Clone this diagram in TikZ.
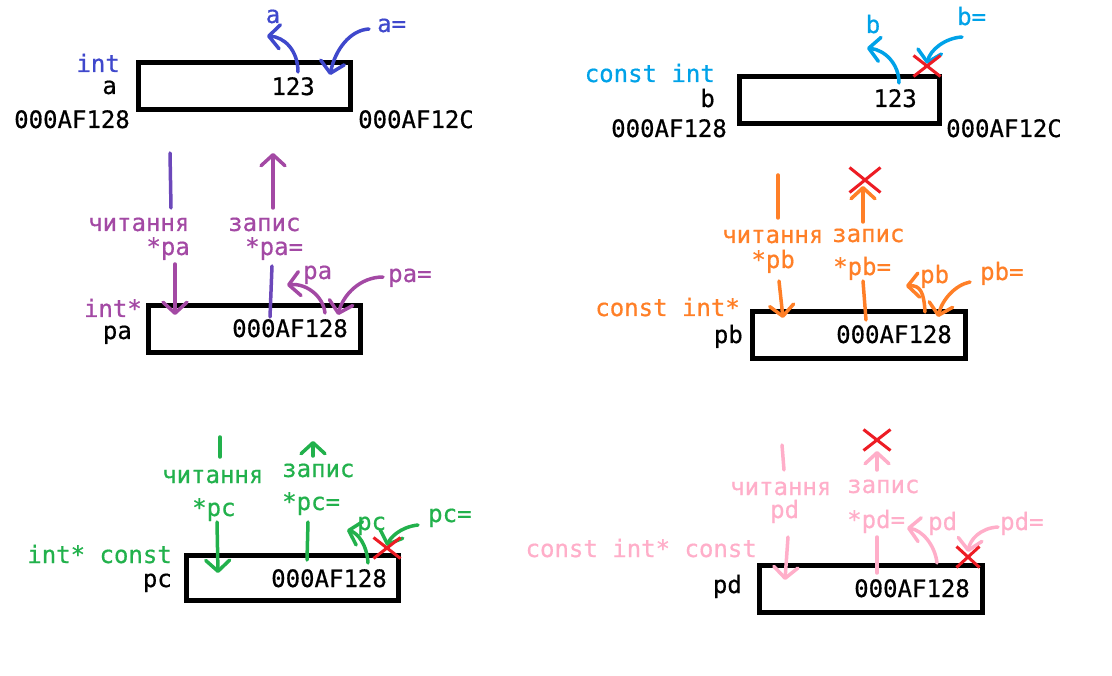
\documentclass[tikz,border=0pt]{standalone}
\usepackage{fontspec}
\newfontfamily\memfont{DejaVu Sans Mono}[FakeBold=0.6]
\usepackage{tikz}
\usetikzlibrary{arrows.meta,shapes.misc}
\definecolor{varA}{HTML}{3F48CC}
\definecolor{varB}{HTML}{00A2E8}
\definecolor{ptrA}{HTML}{A349A4}
\definecolor{ptrB}{HTML}{FF7F27}
\definecolor{ptrC}{HTML}{22B14C}
\definecolor{ptrD}{HTML}{FFAEC9}
\definecolor{deny}{HTML}{ED1C24}
\colorlet{ptrAmix}{ptrA!45!varA}
\tikzset{
  lbl/.style={inner sep=0pt,font=\memfont\fontsize{24}{28}\selectfont},
  cell/.style={draw,line width=5pt,minimum width=#1,minimum height=47pt,inner sep=0pt},
  hand/.style={line width=3.5pt,line cap=round,line join=round},
  handarrow/.style={hand,-{Straight Barb[length=11pt,width=24pt,round]}},
  nope/.style={cross out,draw=deny,line width=3pt,minimum width=24pt,minimum height=18pt,inner sep=0pt}
}
\begin{document}
\begin{tikzpicture}[x=1pt,y=-1pt]
    \useasboundingbox (0,0) rectangle (1112,676);

    % int a
    \node[cell=212] (boxa) at (244,86.5) {};
    \path
    (120,72) node[lbl,anchor=base east,varA] (tyA) {int}
    (117,94) node[lbl,anchor=base east] (nmA) {a}
    (130,128) node[lbl,anchor=base east] (adA) {000AF128}
    (358,128) node[lbl,anchor=base west] (endA) {000AF12C}
    (315,95) node[lbl,anchor=base east] (valA) {123}
    (273,23) node[lbl,anchor=base,varA] (rdA) {a}
    (377,32) node[lbl,anchor=base west,varA] (wrA) {a=}
    ;
    \path
    (298,72) coordinate (rdA0) (267,36) coordinate (rdA1)
    (369,29) coordinate (wrA0) (330,75) coordinate (wrA1)
    ;
    \draw[handarrow,varA] (rdA0) .. controls (298,50) and (284,37) .. (rdA1);
    \draw[handarrow,varA] (wrA0) .. controls (350,30) and (335,50) .. (wrA1);

    % const int b
    \node[cell=200] (boxb) at (839,100) {};
    \path
    (715,82) node[lbl,anchor=base east,varB] (tyB) {const int}
    (715,107) node[lbl,anchor=base east] (nmB) {b}
    (727,137) node[lbl,anchor=base east] (adB) {000AF128}
    (946,137) node[lbl,anchor=base west] (endB) {000AF12C}
    (917,107) node[lbl,anchor=base east] (valB) {123}
    (873,33) node[lbl,anchor=base,varB] (rdB) {b}
    (957,25) node[lbl,anchor=base west,varB] (wrB) {b=}
    ;
    \path
    (899,83) coordinate (rdB0) (867,48) coordinate (rdB1)
    (962,37) coordinate (wrB0) (927,64) coordinate (wrB1)
    ;
    \draw[handarrow,varB] (rdB0) .. controls (899,64) and (885,50) .. (rdB1);
    \draw[handarrow,varB] (wrB0) .. controls (945,38) and (930,50) .. (wrB1);
    \node[nope] (noB) at (927,66) {};

    % int* pa
    \node[cell=212] (boxpa) at (254.5,329) {};
    \path
    (142,317) node[lbl,anchor=base east,ptrA] (tyPa) {int*}
    (132,339) node[lbl,anchor=base east] (nmPa) {pa}
    (348,337) node[lbl,anchor=base east] (valPa) {000AF128}
    (88,231) node[lbl,anchor=base west,ptrA] (rdPa) {читання}
    (190,255) node[lbl,anchor=base east,ptrA] (rdPaX) {*pa}
    (228,231) node[lbl,anchor=base west,ptrA] (wrPa) {запис}
    (245,255) node[lbl,anchor=base west,ptrA] (wrPaX) {*pa=}
    (303,279) node[lbl,anchor=base west,ptrA] (gtPa) {pa}
    (388,282) node[lbl,anchor=base west,ptrA] (stPa) {pa=}
    ;
    \path
    (170,153) coordinate (rdPa0) (171,208) coordinate (rdPa1)
    (175,264) coordinate (rdPa2) (175,315) coordinate (rdPa3)
    (273,208) coordinate (wrPa0) (273,153) coordinate (wrPa1)
    (272,266) coordinate (wrPa2) (270,317) coordinate (wrPa3)
    (325,313) coordinate (gtPa0) (287,285) coordinate (gtPa1)
    (383,277) coordinate (stPa0) (338,315) coordinate (stPa1)
    ;
    \draw[hand,ptrAmix] (rdPa0) -- (rdPa1);
    \draw[handarrow,ptrA] (rdPa2) -- (rdPa3);
    \draw[handarrow,ptrA] (wrPa0) -- (wrPa1);
    \draw[hand,ptrAmix] (wrPa2) -- (wrPa3);
    \draw[handarrow,ptrA] (gtPa0) .. controls (323,295) and (305,283) .. (gtPa1);
    \draw[handarrow,ptrA] (stPa0) .. controls (360,277) and (343,295) .. (stPa1);

    % const int* pb
    \node[cell=213] (boxpb) at (859,335) {};
    \path
    (740,316) node[lbl,anchor=base east,ptrB] (tyPb) {const int*}
    (743,343) node[lbl,anchor=base east] (nmPb) {pb}
    (952,343) node[lbl,anchor=base east] (valPb) {000AF128}
    (722,243) node[lbl,anchor=base west,ptrB] (rdPb) {читання}
    (795,268) node[lbl,anchor=base east,ptrB] (rdPbX) {*pb}
    (832,242) node[lbl,anchor=base west,ptrB] (wrPb) {запис}
    (833,275) node[lbl,anchor=base west,ptrB] (wrPbX) {*pb=}
    (920,283) node[lbl,anchor=base west,ptrB] (gtPb) {pb}
    (980,280) node[lbl,anchor=base west,ptrB] (stPb) {pb=}
    ;
    \path
    (778,175) coordinate (rdPb0) (778,218) coordinate (rdPb1)
    (779,281) coordinate (rdPb2) (783,318) coordinate (rdPb3)
    (863,222) coordinate (wrPb0) (863,186) coordinate (wrPb1)
    (863,281) coordinate (wrPb2) (866,320) coordinate (wrPb3)
    (925,312) coordinate (gtPb0) (906,286) coordinate (gtPb1)
    (970,282) coordinate (stPb0) (938,317) coordinate (stPb1)
    ;
    \draw[hand,ptrB] (rdPb0) -- (rdPb1);
    \draw[handarrow,ptrB] (rdPb2) -- (rdPb3);
    \draw[handarrow,ptrB] (wrPb0) -- (wrPb1);
    \draw[hand,ptrB] (wrPb2) -- (wrPb3);
    \draw[handarrow,ptrB] (gtPb0) .. controls (924,292) and (920,285) .. (gtPb1);
    \draw[handarrow,ptrB] (stPb0) .. controls (955,285) and (942,300) .. (stPb1);
    \node[nope,minimum width=28pt,minimum height=22pt] (noPb) at (865,180) {};

    % int* const pc
    \node[cell=212,minimum height=45pt] (boxpc) at (292.5,578) {};
    \path
    (172,563) node[lbl,anchor=base east,ptrC] (tyPc) {int* const}
    (172,587) node[lbl,anchor=base east] (nmPc) {pc}
    (387,587) node[lbl,anchor=base east] (valPc) {000AF128}
    (162,483) node[lbl,anchor=base west,ptrC] (rdPc) {читання}
    (192,516) node[lbl,anchor=base west,ptrC] (rdPcX) {*pc}
    (282,477) node[lbl,anchor=base west,ptrC] (wrPc) {запис}
    (282,510) node[lbl,anchor=base west,ptrC] (wrPcX) {*pc=}
    (357,530) node[lbl,anchor=base west,ptrC] (gtPc) {pc}
    (428,522) node[lbl,anchor=base west,ptrC] (stPc) {pc=}
    ;
    \path
    (220,437) coordinate (rdPc0) (220,457) coordinate (rdPc1)
    (217,522) coordinate (rdPc2) (218,573) coordinate (rdPc3)
    (313,456) coordinate (wrPc0) (313,441) coordinate (wrPc1)
    (308,522) coordinate (wrPc2) (307,560) coordinate (wrPc3)
    (368,563) coordinate (gtPc0) (347,530) coordinate (gtPc1)
    (418,525) coordinate (stPc0) (387,546) coordinate (stPc1)
    ;
    \draw[hand,ptrC] (rdPc0) -- (rdPc1);
    \draw[handarrow,ptrC] (rdPc2) -- (rdPc3);
    \draw[handarrow,ptrC] (wrPc0) -- (wrPc1);
    \draw[hand,ptrC] (wrPc2) -- (wrPc3);
    \draw[handarrow,ptrC] (gtPc0) .. controls (367,545) and (358,533) .. (gtPc1);
    \draw[handarrow,ptrC] (stPc0) .. controls (400,527) and (390,538) .. (stPc1);
    \node[nope] (noPc) at (387,548) {};

    % const int* const pd
    \node[cell=223] (boxpd) at (871,589) {};
    \path
    (757,557) node[lbl,anchor=base east,ptrD] (tyPd) {const int* const}
    (742,593) node[lbl,anchor=base east] (nmPd) {pd}
    (970,597) node[lbl,anchor=base east] (valPd) {000AF128}
    (730,495) node[lbl,anchor=base west,ptrD] (rdPd) {читання}
    (770,518) node[lbl,anchor=base west,ptrD] (rdPdX) {pd}
    (847,493) node[lbl,anchor=base west,ptrD] (wrPd) {запис}
    (847,528) node[lbl,anchor=base west,ptrD] (wrPdX) {*pd=}
    (928,530) node[lbl,anchor=base west,ptrD] (gtPd) {pd}
    (1000,530) node[lbl,anchor=base west,ptrD] (stPd) {pd=}
    ;
    \path
    (782,445) coordinate (rdPd0) (784,470) coordinate (rdPd1)
    (788,537) coordinate (rdPd2) (785,580) coordinate (rdPd3)
    (877,470) coordinate (wrPd0) (877,451) coordinate (wrPd1)
    (877,537) coordinate (wrPd2) (877,573) coordinate (wrPd3)
    (937,563) coordinate (gtPd0) (907,528) coordinate (gtPd1)
    (998,527) coordinate (stPd0) (968,552) coordinate (stPd1)
    ;
    \draw[hand,ptrD] (rdPd0) -- (rdPd1);
    \draw[handarrow,ptrD] (rdPd2) -- (rdPd3);
    \draw[handarrow,ptrD] (wrPd0) -- (wrPd1);
    \draw[hand,ptrD] (wrPd2) -- (wrPd3);
    \draw[handarrow,ptrD] (gtPd0) .. controls (935,545) and (922,530) .. (gtPd1);
    \draw[handarrow,ptrD] (stPd0) .. controls (980,528) and (970,540) .. (stPd1);
    \node[nope] (noPdW) at (877,440) {};
    \node[nope,minimum width=20pt] (noPdS) at (968,557) {};
  \end{tikzpicture}
\end{document}
